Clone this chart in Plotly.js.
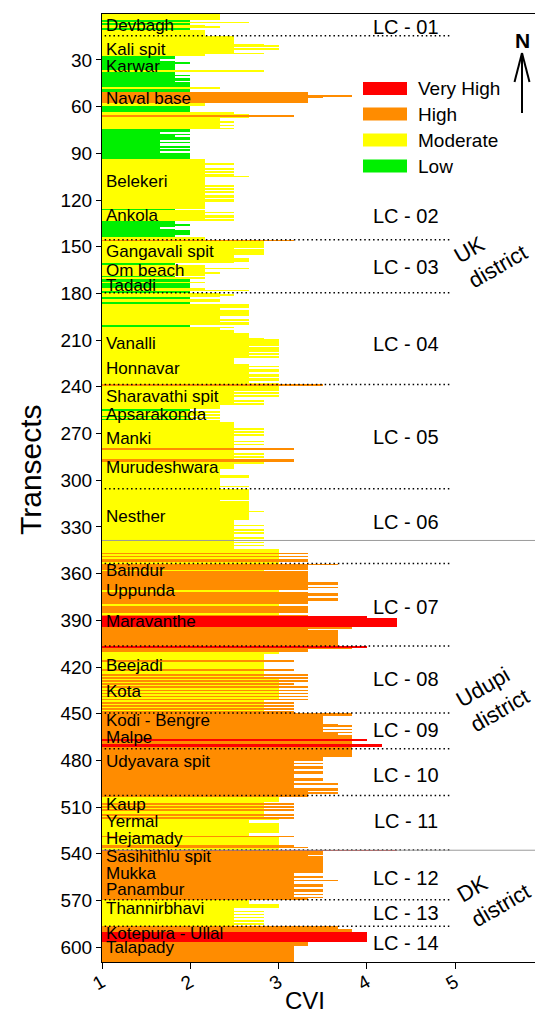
<!DOCTYPE html>
<html><head><meta charset="utf-8">
<script src="https://cdn.plot.ly/plotly-3.0.1.min.js"></script>
<style>html,body{margin:0;padding:0;background:#fff}#chart{width:535px;height:1020px}</style>
</head><body><div id="chart"></div>
<script>
// CVI value of every transect, one array per littoral cell (transects numbered from 1, north to south)
const lc01 = [2.34,2.34,2.34,2.34,2.0,2.67,2.0,2.17,2.34,2.0,2.17,2.17,2.17,2.17];
const lc02 = [2.5,2.5,2.5,2.5,2.5,2.83,3.0,2.5,3.0,2.5,
  2.5,2.83,2.17,1.83,1.83,1.66,1.83,2.0,1.83,1.83,
  1.83,1.83,2.83,1.83,1.83,2.0,1.83,2.0,2.0,1.83,
  2.0,2.0,2.0,2.34,2.0,2.0,3.33,3.33,3.83,3.5,
  3.33,3.33,3.33,2.17,2.17,2.0,2.0,2.0,2.0,2.5,
  2.67,3.17,2.67,2.34,2.34,2.5,2.34,2.5,2.34,2.5,
  2.0,2.0,1.66,2.0,1.83,2.0,2.0,1.66,2.0,1.66,
  1.66,2.0,1.66,2.0,1.66,2.0,2.0,2.0,2.0,2.17,
  2.17,2.17,2.5,2.17,2.17,2.5,2.17,2.5,2.17,2.5,
  2.67,2.17,2.17,2.17,2.17,2.17,2.5,2.17,2.5,2.17,
  2.5,2.17,2.5,2.5,2.17,2.5,2.5,2.17,2.17,2.17,
  2.17,1.83,2.17,2.5,2.17,2.5,2.5,2.17,2.5,1.83,
  1.83,2.0,1.83,1.66,1.83,2.0,2.0,2.0,1.83,2.17,
  2.17];
const lc03 = [3.17,2.83,2.83,2.83,2.83,2.5,2.83,2.83,2.83,2.83,
  2.5,2.5,2.67,2.67,2.5,1.83,2.17,2.17,2.67,2.17,
  2.17,2.34,2.17,1.83,2.17,2.0,2.0,2.17,2.0,2.0,
  2.0,2.17,2.67,2.0];
const lc04 = [2.34,2.5,2.34,2.0,2.34,2.34,2.0,2.67,2.67,2.67,
  2.34,2.67,2.67,2.67,2.67,2.34,2.34,2.67,2.34,2.67,
  2.67,2.0,2.5,2.34,2.5,2.5,2.67,2.67,2.67,2.83,
  3.0,3.0,3.0,3.0,2.67,3.0,3.0,3.0,2.67,3.0,
  2.67,3.0,2.5,2.5,2.5,2.5,2.67,3.0,2.67,3.0,
  3.0,2.67,3.0,3.0,2.67,3.0,3.0,2.67,3.0];
const lc05 = [3.5,3.0,3.0,3.0,2.5,3.0,2.5,3.0,2.5,2.5,
  2.83,2.5,2.83,2.34,2.34,2.34,2.0,2.34,2.17,2.34,
  2.0,2.34,2.0,2.34,2.5,2.5,2.5,2.5,2.83,2.5,
  2.83,2.5,2.83,2.5,2.5,2.5,2.83,2.5,2.83,2.5,
  2.5,3.17,2.5,2.5,2.83,2.5,2.83,2.5,3.17,3.17,
  2.83,2.5,2.5,2.5,2.34,2.34,2.34,2.34,2.67,2.67,
  2.34,2.34,2.34,2.34,2.34,2.67,2.34];
const lc06 = [2.67,2.67,2.67,2.67,2.67,2.67,2.67,2.34,2.67,2.67,
  2.67,2.67,2.67,2.67,2.83,2.67,2.67,2.67,2.67,2.67,
  2.5,2.5,2.5,2.83,2.5,2.5,2.83,2.5,2.83,2.5,
  2.5,2.83,2.5,2.5,2.83,2.5,2.83,2.5,2.5,3.0,
  3.0,3.33,3.0,3.33,3.0,3.33,3.33,3.0];
const lc07 = [3.67,3.33,3.33,3.33,2.83,3.33,3.33,3.33,3.33,3.33,
  3.33,3.33,3.67,3.67,3.33,3.67,3.33,3.0,3.33,3.67,
  3.67,3.33,3.67,3.67,3.33,3.33,3.0,3.33,3.33,3.33,
  3.33,3.33,3.0,3.33,4.0,4.34,4.34,4.34,4.34,4.34,
  4.34,3.83,3.33,3.67,3.67,3.67,3.67,3.67,3.67,3.67,
  3.67,3.67,3.67];
const lc08 = [4.0,3.83,3.33,3.33,3.0,2.83,2.83,2.83,2.83,3.17,
  2.83,2.83,2.83,2.83,2.83,3.17,2.83,2.83,3.33,2.83,
  3.33,3.0,3.33,3.0,3.17,3.0,3.33,3.0,3.33,3.0,
  3.33,3.0,3.33,3.0,3.33,2.83,3.17,2.83,3.17,2.83,
  3.17,2.83,3.17];
const lc09 = [3.83,3.83,3.5,3.5,3.5,3.5,3.5,3.67,3.83,3.5,
  3.83,3.5,3.83,3.67,3.83,3.83,3.83,4.0,3.83,3.83,
  4.17,4.17,3.83];
const lc10 = [3.83,3.83,3.83,3.83,3.83,3.5,3.5,3.5,3.17,3.5,
  3.17,3.5,3.5,3.17,3.5,3.5,3.17,3.17,3.17,3.5,
  3.5,3.17,3.67,3.17,3.17,3.67,3.67,3.33,3.67,3.33];
const lc11 = [3.33,3.0,3.0,3.0,2.83,3.17,2.83,3.17,2.83,3.17,
  2.83,2.83,3.17,2.83,3.17,3.0,2.67,2.67,3.0,3.0,
  3.0,3.0,3.0,3.0,2.67,2.67,3.17,3.0,3.0,3.0,
  3.0,3.0,3.17,3.33,3.0];
const lc12 = [4.34,3.5,3.5,3.33,3.5,3.5,3.5,3.5,3.5,3.5,
  3.5,3.5,3.5,3.5,3.5,3.17,3.17,3.5,3.17,3.67,
  3.17,3.17,3.5,3.5,3.17,3.5,3.5,3.17,3.5,3.17,
  3.5,3.33];
const lc13 = [2.67,2.67,2.67,3.0,3.0,2.5,2.5,2.83,2.5,2.83,
  2.5,2.83,2.5,2.83,2.5,2.83,2.5];
const lc14 = [3.67,3.67,3.83,3.83,4.0,4.0,4.0,4.0,4.0,4.0,
  3.33,3.33,3.33,3.17,3.17,3.17,3.17,3.17,3.17,3.17,
  3.17,3.17,3.17];

const cellNames = ["LC - 01","LC - 02","LC - 03","LC - 04","LC - 05","LC - 06","LC - 07",
  "LC - 08","LC - 09","LC - 10","LC - 11","LC - 12","LC - 13","LC - 14"];
const cellLabelTransect = [8.7,130,163,212.6,272,326.6,381.7,428,460.5,489.5,518.8,555.3,577.7,597.6];

const placeNames = ["Devbagh","Kali spit","Karwar","Naval base","Belekeri","Ankola","Gangavali spit",
  "Om beach","Tadadi","Vanalli","Honnavar","Sharavathi spit","Apsarakonda","Manki","Murudeshwara",
  "Nesther","Baindur","Uppunda","Maravanthe","Beejadi","Kota","Kodi - Bengre","Malpe","Udyavara spit",
  "Kaup","Yermal","Hejamady","Sasihithlu spit","Mukka","Panambur","Thannirbhavi","Kotepura - Ullal","Talapady"];
const placeTransect = [8,23,34,55,108,130,153,165,175,212,228,246,258,273,292,323,358,371,390.5,
  419,436,454.5,465,481,508,519,530,542,552.5,563,575,591,600];

const districtNames = ["UK<br>district","Udupi<br>district","DK<br>district"];
const classNames = ["Very High","High","Moderate","Low"];
const classColors = ["#FF0000","#FF8C00","#FFFF00","#00F000"];
const xTicks = [1,2,3,4,5];
const yTicks = [30,60,90,120,150,180,210,240,270,300,330,360,390,420,450,480,510,540,570,600];

// ---- build ----
const cells = [lc01,lc02,lc03,lc04,lc05,lc06,lc07,lc08,lc09,lc10,lc11,lc12,lc13,lc14];
const FONT = "Liberation Sans, Arial, sans-serif";
function classOf(v){ return v >= 4 ? 0 : (v > 3 ? 1 : (v > 2 ? 2 : 3)); }

const groups = classNames.map(() => ({x:[], y:[]}));
const boundaries = [];
let t = 1;
cells.forEach((cell, ci) => {
  cell.forEach(v => { const g = groups[classOf(v)]; g.x.push(v); g.y.push(t); t++; });
  boundaries.push(t - 0.5);
});
const lastT = t - 1;

const traces = groups.map((g, i) => ({
  type: 'bar', orientation: 'h', x: g.x, y: g.y, width: 1,
  marker: {color: classColors[i], line: {width: 0}}, name: classNames[i], showlegend: false,
  hovertemplate: 'Transect %{y}<br>CVI %{x}<extra>' + classNames[i] + '</extra>'
}));

// plot geometry in page pixels (for paper-anchored decorations)
const M = {l: 102, r: 0, t: 14, b: 58};
const W = 535, H = 1020;
const pw = W - M.l - M.r, ph = H - M.t - M.b;
const PX = x => (x - M.l) / pw;
const PY = y => 1 - (y - M.t) / ph;

const shapes = [];
// littoral cell separators (dotted)
boundaries.slice(0, -1).forEach(b => {
  shapes.push({type:'line', xref:'x', yref:'y', x0:1.03, x1:4.95, y0:b, y1:b,
    line:{color:'#000', width:1.5, dash:'1.5px,2.9px'}});
});
// district separators (solid grey)
[boundaries[5] - 14.8, boundaries[10] + 0.2].forEach(b => {
  shapes.push({type:'line', xref:'paper', yref:'y', x0:0, x1:1, y0:b, y1:b,
    line:{color:'#9a9a9a', width:1}});
});
// legend boxes
const legY = [88.5, 114, 140, 166];
classNames.forEach((n, i) => {
  shapes.push({type:'rect', xref:'paper', yref:'paper', x0:PX(363), x1:PX(407),
    y0:PY(legY[i]-6.5), y1:PY(legY[i]+6.5), fillcolor:classColors[i], line:{width:0}});
});
// north arrow
shapes.push({type:'line', xref:'paper', yref:'paper', x0:PX(522), x1:PX(522), y0:PY(113), y1:PY(54), line:{color:'#000', width:2}});
shapes.push({type:'line', xref:'paper', yref:'paper', x0:PX(514.5), x1:PX(522), y0:PY(82), y1:PY(53), line:{color:'#000', width:2}});
shapes.push({type:'line', xref:'paper', yref:'paper', x0:PX(529.5), x1:PX(522), y0:PY(82), y1:PY(53), line:{color:'#000', width:2}});

const annotations = [];
placeNames.forEach((n, i) => annotations.push({text:n, x:1.025, y:placeTransect[i], xref:'x', yref:'y',
  xanchor:'left', yanchor:'middle', showarrow:false, font:{family:FONT, size:17, color:'#000'}}));
cellNames.forEach((n, i) => annotations.push({text:n, x:4.44, y:cellLabelTransect[i], xref:'x', yref:'y',
  xanchor:'center', yanchor:'middle', showarrow:false, font:{family:FONT, size:20, color:'#000'}}));
classNames.forEach((n, i) => annotations.push({text:n, x:PX(416), y:PY(legY[i]), xref:'paper', yref:'paper',
  xanchor:'left', yanchor:'middle', showarrow:false, font:{family:FONT, size:19, color:'#000'}}));
annotations.push({text:'<b>N</b>', x:PX(522.5), y:PY(40), xref:'paper', yref:'paper', xanchor:'center', yanchor:'middle',
  showarrow:false, font:{family:FONT, size:21, color:'#000'}});
const distPos = [[491, 254], [493, 698], [494, 893]];
districtNames.forEach((n, i) => annotations.push({text:n, x:PX(distPos[i][0]), y:PY(distPos[i][1]), xref:'paper', yref:'paper',
  xanchor:'center', yanchor:'middle', align:'left', textangle:-30, showarrow:false,
  font:{family:FONT, size:22, color:'#000'}}));
// axis titles
annotations.push({text:'CVI', x:PX(305), y:PY(1000), xref:'paper', yref:'paper', xanchor:'center', yanchor:'middle',
  showarrow:false, font:{family:FONT, size:24, color:'#000'}});
annotations.push({text:'Transects', x:PX(30), y:PY(470), xref:'paper', yref:'paper', xanchor:'center', yanchor:'middle',
  textangle:-90, showarrow:false, font:{family:FONT, size:30, color:'#000'}});

const layout = {
  width: W, height: H, margin: M, paper_bgcolor:'#fff', plot_bgcolor:'#fff',
  barmode:'overlay', bargap:0, showlegend:false,
  font:{family:FONT, color:'#000'},
  xaxis:{range:[1, 5.905], tickvals:xTicks, ticks:'outside', ticklen:6, tickwidth:1, tickcolor:'#000',
    showline:true, linecolor:'#000', linewidth:1, mirror:true, showgrid:false, zeroline:false,
    tickangle:-30, tickfont:{family:FONT, size:19}, ticklabelstandoff:-5},
  yaxis:{range:[lastT + 0.5, 0.5], tickvals:yTicks, ticks:'outside', ticklen:5, tickwidth:1, tickcolor:'#000',
    showline:true, linecolor:'#000', linewidth:1, mirror:true, showgrid:false, zeroline:false,
    tickfont:{family:FONT, size:19}},
  shapes: shapes, annotations: annotations
};
Plotly.newPlot('chart', traces, layout, {displayModeBar:false, staticPlot:true});
</script></body></html>
